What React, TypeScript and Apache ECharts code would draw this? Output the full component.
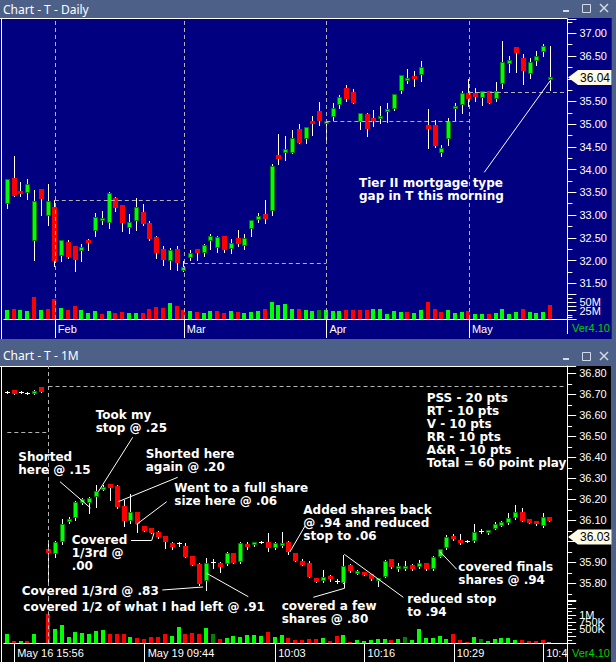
import React, { useEffect, useRef } from 'react';
import * as echarts from 'echarts';

// ================= Daily chart (top panel) =================
const janDays = [23, 24, 25, 28, 29, 30, 31];
const febDays = [1, 4, 5, 6, 7, 8, 11, 12, 13, 14, 15, 19, 20, 21, 22, 25, 26, 27, 28];
const marDays = [3, 4, 5, 6, 7, 10, 11, 12, 13, 14, 17, 18, 19, 20, 21, 24, 25, 26, 27, 28, 31];
const aprDays = [1, 2, 3, 4, 7, 8, 9, 10, 11, 14, 15, 16, 17, 18, 21, 22, 23, 24, 25, 28, 29];
const mayDays = [1, 2, 5, 6, 7, 8, 9, 12, 13, 14, 15, 16, 19];
const dailyPadDates = ['May 20', 'May 21'];
const dailyDates: string[] = [
  ...janDays.map((d) => `Jan ${d}`),
  ...febDays.map((d) => `Feb ${d}`),
  ...marDays.map((d) => `Mar ${d}`),
  ...aprDays.map((d) => `Apr ${d}`),
  ...mayDays.map((d) => `May ${d}`),
  ...dailyPadDates,
];

// [open, close, low, high]
const dailyOHLC: number[][] = [
  [33.24, 33.79, 33.16, 33.8], [33.82, 33.43, 33.42, 34.29], [33.53, 33.47, 33.43, 33.72], [33.49, 33.68, 33.35, 33.79],
  [32.42, 33.31, 32.01, 33.55], [33.57, 33.35, 33.0, 33.58], [32.99, 33.31, 32.78, 33.68], [33.18, 31.98, 31.89, 33.33],
  [32.09, 32.45, 31.98, 32.46], [32.41, 32.07, 32.05, 32.45], [32.32, 32.01, 31.76, 32.33], [32.2, 32.3, 31.98, 32.36],
  [32.45, 32.41, 32.23, 32.47], [32.64, 32.96, 32.53, 33.05], [32.88, 32.94, 32.8, 33.08], [32.83, 33.49, 32.72, 33.5],
  [33.38, 33.16, 33.08, 33.39], [33.22, 32.83, 32.64, 33.23], [32.72, 32.85, 32.61, 33.02], [32.86, 33.17, 32.67, 33.38],
  [33.07, 32.81, 32.78, 33.24], [32.83, 32.47, 32.45, 32.87], [32.52, 32.17, 32.06, 32.53], [32.25, 32.02, 31.9, 32.31],
  [32.0, 32.23, 31.82, 32.28], [32.25, 31.95, 31.8, 32.32], [31.78, 31.85, 31.77, 31.98], [32.06, 32.16, 32.01, 32.23],
  [32.25, 32.16, 32.01, 32.26], [32.16, 32.34, 32.1, 32.36], [32.44, 32.53, 32.25, 32.59], [32.28, 32.52, 32.18, 32.54],
  [32.54, 32.24, 32.18, 32.55], [32.26, 32.38, 32.17, 32.47], [32.5, 32.37, 32.31, 32.67], [32.31, 32.49, 32.25, 32.58],
  [32.69, 32.89, 32.54, 32.9], [32.9, 32.97, 32.85, 33.04], [33.02, 32.91, 32.83, 33.33], [33.08, 34.08, 33.0, 34.12],
  [34.32, 34.23, 34.12, 34.78], [34.36, 34.45, 34.21, 34.75], [34.37, 34.7, 34.37, 34.87], [34.89, 34.59, 34.59, 35.0],
  [34.67, 34.93, 34.59, 34.94], [35.07, 35.02, 34.76, 35.17], [35.3, 35.06, 34.98, 35.48], [35.02, 35.07, 34.63, 35.07],
  [35.15, 35.35, 35.09, 35.47], [35.43, 35.59, 35.35, 35.64], [35.79, 35.55, 35.5, 35.86], [35.71, 35.47, 35.47, 35.77],
  [35.05, 35.24, 34.9, 35.25], [35.22, 34.9, 34.73, 35.24], [35.14, 35.06, 34.95, 35.31], [35.12, 35.17, 35.02, 35.4],
  [35.29, 35.33, 35.05, 35.46], [35.33, 35.66, 35.32, 35.67], [35.72, 36.08, 35.69, 36.08], [35.98, 36.02, 35.9, 36.21],
  [36.06, 35.99, 35.85, 36.16], [36.09, 36.25, 35.94, 36.39], [34.98, 34.89, 34.47, 35.33], [34.98, 34.51, 34.5, 35.09],
  [34.37, 34.47, 34.3, 34.54], [34.68, 35.06, 34.54, 35.14], [35.33, 35.4, 35.06, 35.46], [35.42, 35.69, 35.24, 35.72],
  [35.69, 35.55, 35.4, 35.99], [35.69, 35.6, 35.5, 35.79], [35.57, 35.72, 35.42, 35.74], [35.73, 35.47, 35.47, 35.74],
  [35.55, 35.72, 35.52, 35.93], [35.88, 36.36, 35.79, 36.83], [36.32, 36.41, 36.15, 36.49], [36.69, 36.56, 36.15, 36.7],
  [36.45, 36.18, 35.88, 36.54], [36.1, 36.36, 36.01, 36.45], [36.38, 36.5, 36.3, 36.6], [36.58, 36.72, 36.49, 36.77],
  [35.97, 36.03, 35.75, 36.72],
];
// volume in millions of shares
const dailyVolume = [
  28, 31, 28, 25, 67, 28, 31, 61, 34, 28, 40, 28, 19, 25, 16, 25, 19, 22, 19, 19,
  19, 31, 37, 34, 49, 40, 28, 25, 22, 19, 25, 25, 19, 25, 22, 19, 22, 25, 31, 52,
  43, 46, 31, 31, 26, 25, 28, 28, 25, 25, 28, 28, 28, 28, 31, 31, 16, 25, 22, 22,
  19, 28, 52, 31, 22, 28, 19, 22, 25, 16, 16, 16, 19, 31, 16, 22, 31, 22, 19, 22, 43,
];
// G = up, R = down, D = unchanged
const dailyVolDir = ('GRGGRGRRGR' + 'RGGGRGRRGG' + 'RRRRGRRGRG' + 'GRRGRGGGRG' + 'GGGR' +
  'GGDGGGRRRR' + 'GGGGGRGGRR' + 'RGGGRGGRGG' + 'GGRGGGR').split('');
const monthTickLabels = ['Feb', 'Mar', 'Apr', 'May'];
const prevMonthClose = [33.33, 31.94, 35.07, 35.71];
const dailyPriceTag = '36.04';
// 36.00 sits under the price tag in the reference, so it is not listed
const dailyPriceTicks = ['31.50', '32.00', '32.50', '33.00', '33.50', '34.00', '34.50', '35.00', '35.50', '36.50', '37.00'];
const dailyVolTicks = [[25, '25M'], [50, '50M']];

// ================= 1-minute chart (bottom panel) =================
const may16Times = ['15:55', '15:56', '15:57', '15:58', '15:59', '16:00'];
const may19Times: string[] = Array.from({ length: 76 }, (_, k) => {
  const m = 9 * 60 + 30 + k;
  return `${String(Math.floor(m / 60)).padStart(2, '0')}:${String(m % 60).padStart(2, '0')}`;
});
const minuteCats: string[] = [...may16Times.map((t) => `May 16 ${t}`), ...may19Times.map((t) => `May 19 ${t}`)];

const minuteOHLC: number[][] = [
  [36.71, 36.71, 36.705, 36.715], [36.72, 36.7, 36.7, 36.722], [36.711, 36.711, 36.705, 36.718], [36.706, 36.706, 36.7, 36.713],
  [36.703, 36.717, 36.7, 36.72], [36.733, 36.712, 36.71, 36.735],
  [35.965, 35.946, 35.79, 36.0], [35.94, 35.997, 35.925, 36.0], [35.997, 36.083, 35.987, 36.106], [36.092, 36.106, 36.085, 36.115],
  [36.111, 36.187, 36.1, 36.19], [36.182, 36.201, 36.18, 36.205], [36.182, 36.206, 36.136, 36.21], [36.209, 36.241, 36.165, 36.268],
  [36.249, 36.26, 36.245, 36.27], [36.273, 36.255, 36.197, 36.275], [36.265, 36.165, 36.16, 36.27], [36.17, 36.098, 36.074, 36.197],
  [36.098, 36.14, 36.086, 36.224], [36.14, 36.083, 36.046, 36.14], [36.073, 36.05, 36.048, 36.075], [36.063, 36.041, 36.04, 36.065],
  [36.044, 36.02, 36.015, 36.05], [36.025, 35.998, 35.967, 36.025], [35.992, 35.971, 35.965, 35.995], [35.99, 35.99, 35.98, 35.995],
  [35.978, 35.927, 35.925, 35.993], [35.931, 35.889, 35.885, 35.931], [35.892, 35.797, 35.79, 35.895], [35.811, 35.895, 35.77, 35.92],
  [35.903, 35.903, 35.875, 35.915], [35.897, 35.876, 35.855, 35.9], [35.892, 35.943, 35.887, 35.95], [35.943, 35.898, 35.895, 35.945],
  [35.9, 35.99, 35.895, 35.995], [35.989, 35.971, 35.965, 35.998], [35.981, 35.995, 35.978, 35.998], [35.997, 35.997, 35.992, 36.003],
  [35.995, 35.967, 35.955, 36.038], [35.97, 35.992, 35.962, 35.995], [35.979, 35.993, 35.975, 36.046], [35.995, 35.948, 35.94, 36.0],
  [35.943, 35.908, 35.905, 35.946], [35.906, 35.889, 35.885, 35.916], [35.898, 35.831, 35.83, 35.905], [35.824, 35.808, 35.805, 35.826],
  [35.811, 35.831, 35.805, 35.863], [35.835, 35.819, 35.81, 35.84], [35.811, 35.811, 35.8, 35.82], [35.803, 35.884, 35.8, 35.935],
  [35.886, 35.86, 35.855, 35.89], [35.848, 35.86, 35.845, 35.862], [35.854, 35.84, 35.838, 35.856], [35.843, 35.819, 35.815, 35.845],
  [35.812, 35.824, 35.789, 35.826], [35.831, 35.906, 35.828, 35.91], [35.914, 35.878, 35.875, 35.916], [35.867, 35.884, 35.86, 35.895],
  [35.867, 35.884, 35.865, 35.906], [35.887, 35.867, 35.862, 35.89], [35.876, 35.895, 35.873, 35.911], [35.895, 35.867, 35.863, 35.897],
  [35.867, 35.927, 35.865, 35.931], [35.927, 35.962, 35.925, 35.965], [35.97, 36.022, 35.962, 36.03], [36.025, 36.01, 36.005, 36.035],
  [36.006, 35.99, 35.988, 36.035], [36.001, 36.001, 35.995, 36.005], [36.001, 36.043, 35.998, 36.082], [36.049, 36.049, 36.04, 36.06],
  [36.038, 36.054, 36.035, 36.056], [36.059, 36.081, 36.057, 36.093], [36.074, 36.093, 36.072, 36.095], [36.086, 36.11, 36.084, 36.133],
  [36.11, 36.141, 36.108, 36.173], [36.141, 36.098, 36.096, 36.157], [36.105, 36.089, 36.087, 36.107], [36.097, 36.081, 36.079, 36.099],
  [36.074, 36.114, 36.067, 36.133], [36.114, 36.098, 36.096, 36.116],
];
// volume in millions of shares
const minuteVolume = [
  0.33, 0.08, 0.09, 0.08, 0.33, 0.02,
  1.04, 0.52, 0.65, 0.21, 0.4, 0.38, 0.32, 0.44, 0.46, 0.33,
  0.32, 0.33, 0.24, 0.18, 0.14, 0.24, 0.24, 0.33, 0.27, 0.59,
  0.33, 0.38, 0.33, 0.54, 0.33, 0.14, 0.2, 0.26, 0.24, 0.29,
  0.28, 0.26, 0.4, 0.21, 0.29, 0.18, 0.1, 0.13, 0.14, 0.14,
  0.18, 0.08, 0.26, 0.28, 0.06, 0.12, 0.09, 0.12, 0.14, 0.14,
  0.12, 0.14, 0.24, 0.12, 0.52, 0.18, 0.18, 0.26, 0.14, 0.33,
  0.12, 0.06, 0.24, 0.14, 0.08, 0.14, 0.18, 0.18, 0.12, 0.12,
  0.08, 0.08, 0.12, 0.05,
];
// G = up, R = down, D = unchanged, N = tiny/neutral
const minuteVolDir = ('GRGRGN' + 'RGGGGGGGGR' + 'RRGRRRRRGG' + 'RRRGDRGGGG' + 'GGRGGRRRRR' +
  'GRRGRGGGGG' + 'RGDGGGGGGR' + 'RRGDGGGGGR' + 'RRRN').split('');
const minuteTickLabels: [string, string][] = [
  ['May 16 15:56', 'May 16 15:56'],
  ['May 19 09:44', 'May 19 09:44'],
  ['May 19 10:03', '10:03'],
  ['May 19 10:16', '10:16'],
  ['May 19 10:29', '10:29'],
  ['May 19 10:42', '10:42'],
];
const sessionBreak = 'May 19 09:30';
const priorDayLevel = 36.52;
const sessionRefLevel = 36.74;
const minutePriceTag = '36.03';
// 36.00 sits under the price tag in the reference, so it is not listed
const minutePriceTicks = ['35.80', '35.90', '36.10', '36.20', '36.30', '36.40', '36.50', '36.60', '36.70', '36.80'];
const minuteVolTicks = [[0.5, '500K'], [0.75, '750K'], [1, '1M']];

// ================= rendering helpers =================
const AXIS_FONT = 'Liberation Sans';
const NOTE_FONT = 'DejaVu Sans';
const VOL_COLORS: Record<string, string> = { G: '#00ff00', R: '#ff0000', D: '#008000', N: '#8a8a8a' };

function renderCandle(_params: any, api: any) {
  const i = api.value(0);
  const o = api.value(1), c = api.value(2), l = api.value(3), h = api.value(4);
  const pO = api.coord([i, o]);
  const pC = api.coord([i, c]);
  const pH = api.coord([i, h]);
  const pL = api.coord([i, l]);
  const xc = Math.floor(pO[0]);
  const children: any[] = [
    {
      type: 'line',
      shape: { x1: xc + 0.5, y1: Math.round(pH[1]), x2: xc + 0.5, y2: Math.round(pL[1]) + 1 },
      style: { stroke: '#ffffff', lineWidth: 1 },
    },
  ];
  const y1 = Math.round(Math.min(pO[1], pC[1]));
  let y2 = Math.round(Math.max(pO[1], pC[1]));
  if (o === c) {
    children.push({
      type: 'line',
      shape: { x1: xc - 2, y1: y1 + 0.5, x2: xc + 3, y2: y1 + 0.5 },
      style: { stroke: '#ffffff', lineWidth: 1 },
    });
  } else if (c > o) {
    if (y2 - y1 < 3) y2 = y1 + 3;
    children.push({
      type: 'rect',
      shape: { x: xc - 1.5, y: y1 + 0.5, width: 4, height: y2 - y1 - 1 },
      style: { fill: '#00ff00', stroke: '#008000', lineWidth: 1 },
    });
  } else {
    if (y2 - y1 < 3) y2 = y1 + 3;
    children.push({
      type: 'rect',
      shape: { x: xc - 2, y: y1, width: 5, height: y2 - y1 },
      style: { fill: '#ff0000' },
    });
  }
  return { type: 'group', children };
}

function makeVolumeRenderer(dirs: string[]) {
  return (params: any, api: any) => {
    const i = api.value(0);
    const v = api.value(1);
    const pT = api.coord([i, v]);
    const pB = api.coord([i, 0]);
    const xc = Math.floor(pT[0]);
    const yT = Math.round(pT[1]);
    const yB = Math.round(pB[1]);
    return {
      type: 'rect',
      shape: { x: xc - 2, y: yT, width: 4, height: Math.max(yB - yT, 1) },
      style: { fill: VOL_COLORS[dirs[params.dataIndex]] || '#00ff00' },
    };
  };
}

const dashed = { color: '#b4b4b4', width: 1, type: [4, 3] as any };

function txt(x: number, y: number, text: string, extra: any = {}, z = 60) {
  return {
    type: 'text',
    z,
    silent: true,
    style: {
      x, y, text,
      fill: '#ffffff',
      fontSize: 12,
      fontWeight: 'bold',
      fontFamily: NOTE_FONT,
      lineHeight: 13,
      align: 'left',
      verticalAlign: 'top',
      textAlign: 'left',
      textVerticalAlign: 'top',
      ...extra,
    },
  };
}
function ln(x1: number, y1: number, x2: number, y2: number, color = '#ffffff', z = 60, w = 1) {
  return { type: 'line', z, silent: true, shape: { x1, y1, x2, y2 }, style: { stroke: color, lineWidth: w } };
}
function pl(points: number[][], z = 60) {
  return { type: 'polyline', z, silent: true, shape: { points }, style: { stroke: '#ffffff', lineWidth: 1, fill: null } };
}
function windowControls(y: number) {
  const c = '#d4dae6';
  return [
    ln(563, y + 7, 569, y + 7, c, 5, 2),
    { type: 'rect', z: 5, silent: true, shape: { x: 582.5, y: y + 0.5, width: 8, height: 8 }, style: { stroke: c, lineWidth: 1, fill: null } },
    ln(600, y, 608, y + 8, c, 5, 1.4),
    ln(608, y, 600, y + 8, c, 5, 1.4),
  ];
}
function priceTag(yc: number, label: string) {
  return [
    {
      type: 'polygon', z: 70, silent: true,
      shape: { points: [[568, yc], [578, yc - 7.5], [611.5, yc - 7.5], [611.5, yc + 7.5], [578, yc + 7.5]] },
      style: { fill: '#fffbe6' },
    },
    txt(580, yc, label, { fill: '#000000', fontWeight: 'normal', fontFamily: AXIS_FONT, fontSize: 12, verticalAlign: 'middle', textVerticalAlign: 'middle' }, 71),
  ];
}

function buildOption() {
  const dailyCats = dailyDates;
  const monthIdx = monthTickLabels.map((m) => dailyCats.findIndex((d) => d.startsWith(m)));
  const lastDailyIdx = dailyCats.length - 1;
  const minuteTickIdx = minuteTickLabels.map(([cat]) => minuteCats.indexOf(cat));
  const breakIdx = minuteCats.indexOf(sessionBreak);
  const lastMinuteIdx = minuteCats.length - 1;

  const monthSegments = monthIdx.map((start, k) => {
    const end = k + 1 < monthIdx.length ? monthIdx[k + 1] : lastDailyIdx;
    return [{ coord: [start, prevMonthClose[k]] }, { coord: [end, prevMonthClose[k]] }];
  });

  const priceAxisCommon = {
    type: 'value',
    position: 'right',
    splitLine: { show: false },
    axisLine: { show: true, lineStyle: { color: '#ffffff', width: 1 } },
    axisTick: { show: true, length: 9, lineStyle: { color: '#ffffff' } },
    minorTick: { show: true, splitNumber: 2, length: 5, lineStyle: { color: '#ffffff' } },
    minorSplitLine: { show: false },
  };
  const labelStyle = { color: '#ffffff', fontSize: 11, fontFamily: AXIS_FONT, margin: 12 };

  const graphics: any[] = [
    // panels
    { type: 'rect', z: -20, silent: true, shape: { x: 0, y: 18, width: 611.7, height: 321 }, style: { fill: '#000080' } },
    { type: 'rect', z: -20, silent: true, shape: { x: 0, y: 366, width: 611, height: 296 }, style: { fill: '#000000' } },
    ln(0, 18.5, 567.5, 18.5, '#ffffff', 3),
    ln(1.5, 18, 1.5, 339, '#ffffff', 3),
    ln(0, 366.5, 567.5, 366.5, '#ffffff', 3),
    ln(1.5, 366, 1.5, 662, '#ffffff', 3),
    ln(567.5, 318, 567.5, 334, '#ffffff', 3),
    // titles
    txt(3, 9, 'Chart - T - Daily', { fontWeight: 'normal', fontFamily: 'Noto Sans', fontSize: 12, verticalAlign: 'middle', textVerticalAlign: 'middle' }, 5),
    txt(3, 355, 'Chart - T - 1M', { fontWeight: 'normal', fontFamily: 'Noto Sans', fontSize: 12, verticalAlign: 'middle', textVerticalAlign: 'middle' }, 5),
    ...windowControls(4),
    ...windowControls(352),
    // cover for clipped time label + axis continuation
    { type: 'rect', z: 40, silent: true, shape: { x: 568, y: 644, width: 43, height: 18 }, style: { fill: '#000000' } },
    ln(567.5, 643, 567.5, 662, '#ffffff', 41),
    txt(572, 327.5, 'Ver4.10', { fill: '#00d000', fontWeight: 'normal', fontFamily: AXIS_FONT, fontSize: 11, verticalAlign: 'middle', textVerticalAlign: 'middle' }, 42),
    txt(572, 652.5, 'Ver4.10', { fill: '#00d000', fontWeight: 'normal', fontFamily: AXIS_FONT, fontSize: 11, verticalAlign: 'middle', textVerticalAlign: 'middle' }, 42),
    // price tags
    ...priceTag(77.5, dailyPriceTag),
    ...priceTag(537, minutePriceTag),
    // top annotation
    txt(359, 176.8, 'Tier II mortgage type\ngap in T this morning'),
    ln(484.3, 172.3, 550, 81),
    // bottom annotations
    txt(18.3, 450.8, 'Shorted\nhere @ .15'),
    ln(60, 481.7, 90.5, 508),
    txt(95.7, 408.5, 'Took my\nstop @ .25'),
    ln(132.7, 437.3, 98.3, 491.7),
    txt(145.7, 447.8, 'Shorted here\nagain @ .20'),
    ln(177.7, 477.3, 118.3, 501.7),
    txt(174.3, 481.8, 'Went to a full share\nsize here @ .06'),
    ln(166.7, 501.7, 136.7, 524.3),
    txt(71.7, 533.5, 'Covered\n1/3rd @\n.00'),
    pl([[131, 540.5], [151.7, 540.5], [154, 533]]),
    txt(21.7, 584.2, 'Covered 1/3rd @ .83'),
    ln(162.3, 590, 203, 587),
    txt(23.3, 600.2, 'covered 1/2 of what I had left @ .91'),
    ln(248.3, 596.7, 206.7, 573.3),
    txt(303.3, 503.5, 'Added shares back\n@ .94 and reduced\nstop to .06'),
    ln(305, 526, 290, 551.7),
    txt(281.7, 599.5, 'covered a few\nshares @ .80'),
    pl([[313.3, 597.3], [344.5, 588.3], [344.5, 582]]),
    txt(407.3, 592.5, 'reduced stop\nto .94'),
    ln(403.3, 597.3, 344.3, 554.3),
    txt(458.3, 560.8, 'covered finals\nshares @ .94'),
    ln(456.7, 569.3, 440, 551.7),
    txt(426.7, 391.2, 'PSS - 20 pts\nRT - 10 pts\nV - 10 pts\nRR - 10 pts\nA&R - 10 pts\nTotal = 60 point play', { lineHeight: 13.1 }),
  ];

  return {
    animation: false,
    backgroundColor: '#4d6188',
    textStyle: { fontFamily: AXIS_FONT },
    grid: [
      { left: 3.9, top: 19, width: 563.5, height: 300, outerBoundsMode: 'none', containLabel: false },
      { left: 3.9, top: 294, width: 563.5, height: 25, outerBoundsMode: 'none', containLabel: false },
      { left: 3.87, top: 366, width: 563.3, height: 234, outerBoundsMode: 'none', containLabel: false },
      { left: 3.87, top: 600, width: 563.3, height: 43.3, outerBoundsMode: 'none', containLabel: false },
    ],
    xAxis: [
      { type: 'category', gridIndex: 0, data: dailyCats, boundaryGap: true, show: false },
      {
        type: 'category', gridIndex: 1, data: dailyCats, boundaryGap: true,
        axisLine: { show: true, lineStyle: { color: '#ffffff', width: 1 } },
        axisTick: { show: true, alignWithLabel: true, length: 19, interval: (i: number) => monthIdx.includes(i), lineStyle: { color: '#ffffff' } },
        axisLabel: {
          show: true, interval: (i: number) => monthIdx.includes(i),
          formatter: (_v: string, i: number) => monthTickLabels[monthIdx.indexOf(i)] || '',
          align: 'left', padding: [0, 0, 0, 3], color: '#ffffff', fontSize: 11, fontFamily: AXIS_FONT, margin: 4,
        },
        splitLine: { show: false },
      },
      { type: 'category', gridIndex: 2, data: minuteCats, boundaryGap: true, show: false },
      {
        type: 'category', gridIndex: 3, data: minuteCats, boundaryGap: true,
        axisLine: { show: true, lineStyle: { color: '#ffffff', width: 1 } },
        axisTick: { show: true, alignWithLabel: true, length: 19, interval: (i: number) => minuteTickIdx.includes(i), lineStyle: { color: '#ffffff' } },
        axisLabel: {
          show: true, interval: (i: number) => minuteTickIdx.includes(i),
          formatter: (_v: string, i: number) => {
            const k = minuteTickIdx.indexOf(i);
            return k >= 0 ? minuteTickLabels[k][1] : '';
          },
          align: 'left', padding: [0, 0, 0, 3], color: '#ffffff', fontSize: 11, fontFamily: AXIS_FONT, margin: 4,
        },
        splitLine: { show: false },
      },
    ],
    yAxis: [
      {
        ...priceAxisCommon, gridIndex: 0, min: 30.714, max: 37.315, minInterval: 0.5, maxInterval: 0.5, splitNumber: 13,
        axisLabel: {
          ...labelStyle, showMinLabel: false, showMaxLabel: false,
          formatter: (v: number) => (dailyPriceTicks.includes(v.toFixed(2)) ? v.toFixed(2) : ''),
        },
      },
      {
        ...priceAxisCommon, gridIndex: 1, min: 0, max: 75, interval: 25,
        minorTick: { show: true, splitNumber: 2, length: 5, lineStyle: { color: '#ffffff' } },
        axisLabel: {
          ...labelStyle,
          formatter: (v: number) => {
            const t = dailyVolTicks.find((d) => Math.abs((d[0] as number) - v) < 1e-6);
            return t ? (t[1] as string) : '';
          },
        },
      },
      {
        ...priceAxisCommon, gridIndex: 2, min: 35.7205, max: 36.8348, minInterval: 0.1, maxInterval: 0.1, splitNumber: 11,
        axisLabel: {
          ...labelStyle, showMinLabel: false, showMaxLabel: false,
          formatter: (v: number) => (minutePriceTicks.includes(v.toFixed(2)) ? v.toFixed(2) : ''),
        },
      },
      {
        ...priceAxisCommon, gridIndex: 3, min: 0, max: 1.53, interval: 0.25,
        minorTick: { show: true, splitNumber: 2, length: 5, lineStyle: { color: '#ffffff' } },
        axisLabel: {
          ...labelStyle, showMaxLabel: false,
          formatter: (v: number) => {
            const t = minuteVolTicks.find((d) => Math.abs((d[0] as number) - v) < 1e-6);
            return t ? (t[1] as string) : '';
          },
        },
      },
    ],
    series: [
      {
        type: 'custom', name: 'T daily', xAxisIndex: 0, yAxisIndex: 0, clip: true, silent: true,
        data: dailyOHLC.map((d, i) => [i, ...d]),
        encode: { x: 0, y: [1, 2, 3, 4] },
        renderItem: renderCandle,
        markLine: {
          silent: true, symbol: ['none', 'none'], label: { show: false }, lineStyle: dashed, animation: false,
          emphasis: { disabled: true },
          data: [...monthIdx.map((i) => ({ xAxis: i })), ...monthSegments],
        },
      },
      {
        type: 'custom', name: 'daily volume', xAxisIndex: 1, yAxisIndex: 1, clip: true, silent: true,
        data: dailyVolume.map((v, i) => [i, v]),
        encode: { x: 0, y: 1 },
        renderItem: makeVolumeRenderer(dailyVolDir),
      },
      {
        type: 'custom', name: 'T 1M', xAxisIndex: 2, yAxisIndex: 2, clip: true, silent: true,
        data: minuteOHLC.map((d, i) => [i, ...d]),
        encode: { x: 0, y: [1, 2, 3, 4] },
        renderItem: renderCandle,
        markLine: {
          silent: true, symbol: ['none', 'none'], label: { show: false }, lineStyle: dashed, animation: false,
          emphasis: { disabled: true },
          data: [
            { xAxis: breakIdx },
            [{ coord: [0, priorDayLevel] }, { coord: [breakIdx, priorDayLevel] }],
            [{ coord: [breakIdx, sessionRefLevel] }, { coord: [lastMinuteIdx, sessionRefLevel] }],
          ],
        },
      },
      {
        type: 'custom', name: '1M volume', xAxisIndex: 3, yAxisIndex: 3, clip: true, silent: true,
        data: minuteVolume.map((v, i) => [i, v]),
        encode: { x: 0, y: 1 },
        renderItem: makeVolumeRenderer(minuteVolDir),
        markLine: {
          silent: true, symbol: ['none', 'none'], label: { show: false }, lineStyle: dashed, animation: false,
          emphasis: { disabled: true },
          data: [{ xAxis: breakIdx }],
        },
      },
    ],
    graphic: { elements: graphics },
  };
}

export default function App() {
  const ref = useRef<HTMLDivElement>(null);
  useEffect(() => {
    if (!ref.current) return;
    const chart = echarts.init(ref.current, null, { renderer: 'svg', width: 616, height: 662 });
    chart.setOption(buildOption() as any);
    return () => chart.dispose();
  }, []);
  return <div ref={ref} style={{ position: 'fixed', left: 0, top: 0, width: 616, height: 662 }} />;
}
